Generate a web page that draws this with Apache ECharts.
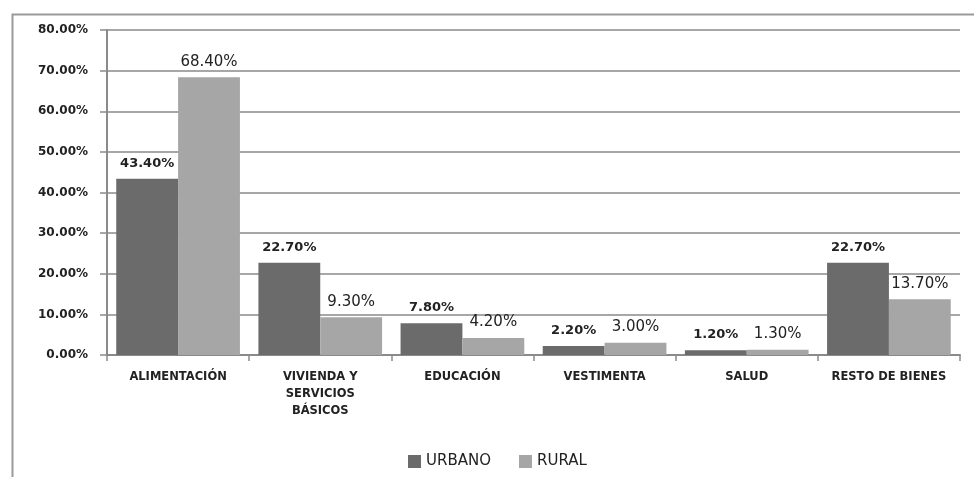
<!DOCTYPE html>
<html>
<head>
<meta charset="utf-8">
<script src="https://cdn.jsdelivr.net/npm/echarts@6/dist/echarts.min.js"></script>
<style>html,body{margin:0;padding:0;background:#fff;}#c{width:974px;height:477px;}</style>
</head>
<body>
<div id="c"></div>
<script>
var categories = ['ALIMENTACIÓN', 'VIVIENDA Y\nSERVICIOS\nBÁSICOS', 'EDUCACIÓN', 'VESTIMENTA', 'SALUD', 'RESTO DE BIENES'];
var urbano = [43.4, 22.7, 7.8, 2.2, 1.2, 22.7];
var rural = [68.4, 9.3, 4.2, 3.0, 1.3, 13.7];
var seriesNames = ['URBANO', 'RURAL'];

var chart = echarts.init(document.getElementById('c'));
function fmt(p) { return p.value.toFixed(2) + '%'; }
chart.setOption({
  animation: false,
  backgroundColor: '#fff',
  graphic: [{
    type: 'rect', left: 10, top: 12,
    shape: { width: 1000, height: 500 },
    style: { fill: 'none', stroke: '#9a9a9a', lineWidth: 2 }
  }],
  grid: { left: 107, right: 14, top: 30, bottom: 122, containLabel: false },
  legend: {
    top: 449, left: 403,
    itemWidth: 13, itemHeight: 13, itemGap: 28,
    icon: 'rect',
    textStyle: { fontFamily: 'DejaVu Sans', fontSize: 15, color: '#222' },
    data: seriesNames
  },
  xAxis: {
    type: 'category', data: categories,
    axisLine: { lineStyle: { color: '#8a8a8a', width: 2 } },
    axisTick: { show: true, length: 6, lineStyle: { color: '#8a8a8a', width: 1.5 } },
    axisLabel: {
      margin: 14, interval: 0, lineHeight: 17,
      fontFamily: 'DejaVu Sans', fontWeight: 'bold', fontSize: 11.5, color: '#222'
    }
  },
  yAxis: {
    type: 'value', min: 0, max: 80, interval: 10,
    axisLine: { show: true, lineStyle: { color: '#8a8a8a', width: 2 } },
    axisTick: { show: true, length: 7, lineStyle: { color: '#8a8a8a', width: 1.5 } },
    splitLine: { lineStyle: { color: '#8a8a8a', width: 1.5 } },
    axisLabel: {
      margin: 19,
      fontFamily: 'DejaVu Sans', fontWeight: 'bold', fontSize: 12, color: '#222',
      formatter: function (v) { return v.toFixed(2) + '%'; }
    }
  },
  series: [
    { name: seriesNames[0], type: 'bar', data: urbano, barGap: '0%', barCategoryGap: '13%',
      itemStyle: { color: '#6b6b6b' },
      label: { show: true, position: 'top', distance: 9, fontFamily: 'DejaVu Sans', fontWeight: 'bold',
               fontSize: 13, color: '#222', formatter: fmt } },
    { name: seriesNames[1], type: 'bar', data: rural, barGap: '0%', barCategoryGap: '13%',
      itemStyle: { color: '#a6a6a6' },
      label: { show: true, position: 'top', distance: 8, fontFamily: 'DejaVu Sans', fontWeight: 'normal',
               fontSize: 15, color: '#222', formatter: fmt } }
  ]
});
</script>
</body>
</html>
